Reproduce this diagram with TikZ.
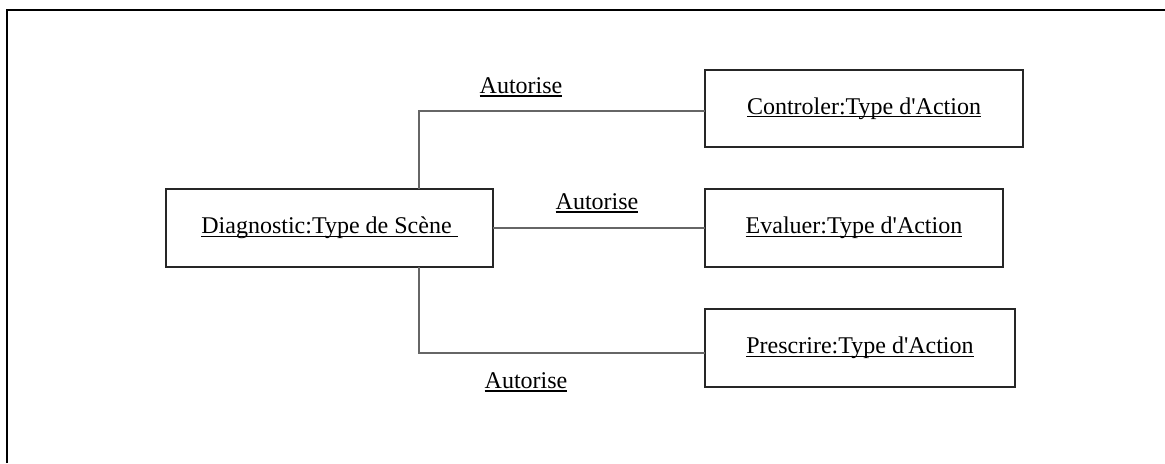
\documentclass[tikz,border=0pt]{standalone}
\usepackage{fontspec}
\setmainfont{Liberation Serif}
% underline at a fixed depth below the baseline, the same for every label
\newcommand\undl[1]{\setbox0\hbox{#1}\rlap{\rule[-1.6pt]{\wd0}{0.55pt}}\box0}
\newcommand\apos{\textquotesingle}
\begin{document}
\begin{tikzpicture}[x=0.5pt,y=-0.5pt,
  obj/.style={draw=black!85,line width=0.6pt,inner sep=0pt,outer sep=0pt,
    font=\fontsize{12}{14}\selectfont},
  lbl/.style={inner sep=0pt,font=\fontsize{12}{14}\selectfont},
  link/.style={draw=black!60,line width=0.6pt}]
\useasboundingbox (0,0) rectangle (1165,463);
% frame
\draw[line width=1.3pt] (7,463) -- (7,10) -- (1165,10);
% objects
\node[obj,minimum width=163.5pt,minimum height=39pt] (diag) at (329.5,228) {\undl{Diagnostic:Type de Scène\ }};
\node[obj,minimum width=159pt,minimum height=38.5pt] (ctrl) at (864,108.5) {\undl{Controler:Type d\apos Action}};
\node[obj,minimum width=149pt,minimum height=39pt] (eval) at (854,228) {\undl{Evaluer:Type d\apos Action}};
\node[obj,minimum width=155pt,minimum height=39pt] (pres) at (860,348) {\undl{Prescrire:Type d\apos Action}};
% links
\coordinate (e1) at (419,111);
\coordinate (e2) at (419,353);
\draw[link] (diag.north -| e1) -- (e1) -- (ctrl.west |- e1);
\draw[link] (diag) -- (eval);
\draw[link] (diag.south -| e2) -- (e2) -- (pres.west |- e2);
% link labels
\node[lbl] (l1) at (521,87) {\undl{Autorise}};
\node[lbl] (l2) at (597,203) {\undl{Autorise}};
\node[lbl] (l3) at (526,382) {\undl{Autorise}};
\end{tikzpicture}
\end{document}
